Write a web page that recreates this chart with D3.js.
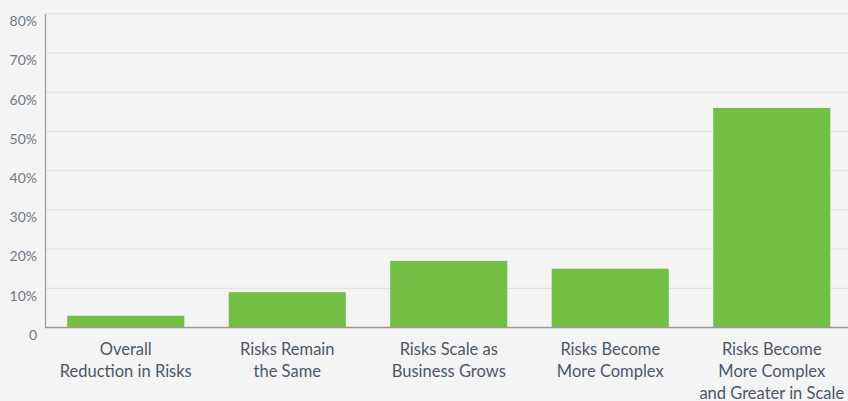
<!DOCTYPE html>
<html><head><meta charset="utf-8">
<script src="https://cdn.jsdelivr.net/npm/d3@7"></script>
<style>html,body{margin:0;padding:0;background:#f4f4f4;}svg{display:block;font-family:Lato,sans-serif;}</style>
</head><body>
<script>
const categories = [
  ["Overall", "Reduction in Risks"],
  ["Risks Remain", "the Same"],
  ["Risks Scale as", "Business Grows"],
  ["Risks Become", "More Complex"],
  ["Risks Become", "More Complex", "and Greater in Scale"]
];
const values = [3, 9, 17, 15, 56];
const yTicks = [0, 10, 20, 30, 40, 50, 60, 70, 80];

const W = 848, H = 401;
const svg = d3.select("body").append("svg").attr("width", W).attr("height", H);
svg.append("rect").attr("width", W).attr("height", H).attr("fill", "#f4f4f4");

const x = d3.scaleBand().domain(d3.range(categories.length)).range([45, 852.5]).paddingInner(0.275).paddingOuter(0.1375);
const y = d3.scaleLinear().domain([0, 80]).range([327.5, 13.8]);

// grid
svg.append("g").selectAll("line").data(yTicks.filter(d => d > 0)).join("line")
  .attr("x1", 45).attr("x2", W).attr("y1", d => y(d)).attr("y2", d => y(d))
  .attr("stroke", "#dedede").attr("stroke-width", 1);

// bars
svg.append("g").selectAll("rect").data(values).join("rect")
  .attr("x", (d, i) => x(i)).attr("width", x.bandwidth())
  .attr("y", d => y(d)).attr("height", d => y(0) - y(d))
  .attr("fill", "#72bf44");

// y axis
const yAxis = d3.axisLeft(y).tickValues(yTicks).tickSize(0).tickPadding(8)
  .tickFormat(d => d === 0 ? "0" : d + "%");
const ya = svg.append("g").attr("transform", "translate(45,0)").call(yAxis);
ya.select(".domain").attr("stroke", "#9a9a9a").attr("stroke-width", 1.2);
ya.selectAll("text").attr("fill", "#707885").attr("font-size", 14).attr("font-family", "Lato, sans-serif").attr("dy", "0.85em");

// baseline
svg.append("line").attr("x1", 45).attr("x2", W).attr("y1", y(0)).attr("y2", y(0))
  .attr("stroke", "#9a9a9a").attr("stroke-width", 1.5);

// x labels
const xl = svg.append("g").selectAll("text").data(categories).join("text")
  .attr("text-anchor", "middle").attr("fill", "#4d5766")
  .attr("font-size", 16.5).attr("font-family", "Lato, sans-serif");
xl.each(function(lines, i) {
  d3.select(this).selectAll("tspan").data(lines).join("tspan")
    .attr("x", x(i) + x.bandwidth() / 2)
    .attr("y", (d, j) => 354.5 + j * 22.3)
    .text(d => d);
});
</script>
</body></html>
